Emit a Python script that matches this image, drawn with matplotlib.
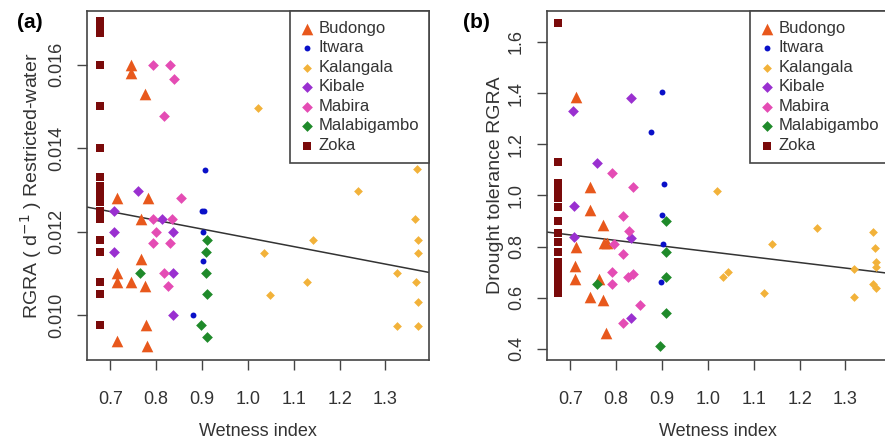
import matplotlib
matplotlib.use("Agg")
from matplotlib import pyplot as plt

plt.rcParams['font.family'] = ['Liberation Sans', 'DejaVu Sans']

sites = ["Budongo", "Itwara", "Kalangala", "Kibale", "Mabira", "Malabigambo", "Zoka"]
colors = ["#E8581C", "#0A10C8", "#F2B23A", "#9A30D0", "#E44CB4", "#1F8A2A", "#7A0A0A"]
markers = ["^", "o", "D", "D", "D", "D", "s"]
sizes = [70, 18, 20, 30, 30, 30, 36]

# panel (a): RGRA restricted water
budongo_x_a = [0.744, 0.744, 0.775, 0.715, 0.781, 0.766, 0.766, 0.715, 0.715, 0.744, 0.775, 0.777, 0.715, 0.779]
budongo_y_a = [0.0160, 0.0158, 0.01529, 0.0128, 0.0128, 0.0123, 0.01134, 0.0110, 0.0108, 0.0108, 0.0107, 0.00976, 0.00938, 0.00926]
itwara_x_a = [0.906, 0.899, 0.905, 0.902, 0.902, 0.880]
itwara_y_a = [0.01347, 0.0125, 0.0125, 0.0120, 0.0113, 0.0100]
kalangala_x_a = [1.022, 1.369, 1.240, 1.364, 1.371, 1.143, 1.035, 1.371, 1.325, 1.367, 1.128, 1.049, 1.371, 1.325, 1.371]
kalangala_y_a = [0.01496, 0.0135, 0.01297, 0.0123, 0.0118, 0.0118, 0.01148, 0.01148, 0.0110, 0.0108, 0.0108, 0.01048, 0.01031, 0.00974, 0.00974]
kibale_x_a = [0.761, 0.709, 0.812, 0.709, 0.836, 0.709, 0.836, 0.836]
kibale_y_a = [0.01297, 0.0125, 0.0123, 0.0120, 0.0120, 0.0115, 0.0110, 0.0100]
mabira_x_a = [0.792, 0.830, 0.838, 0.816, 0.854, 0.792, 0.834, 0.799, 0.792, 0.829, 0.816, 0.825]
mabira_y_a = [0.0160, 0.0160, 0.01565, 0.01477, 0.0128, 0.0123, 0.0123, 0.0120, 0.01172, 0.01172, 0.0110, 0.0107]
malabigambo_x_a = [0.764, 0.911, 0.908, 0.908, 0.911, 0.897, 0.911]
malabigambo_y_a = [0.0110, 0.0118, 0.0115, 0.0110, 0.0105, 0.00976, 0.00947]
zoka_x_a = [0.677] * 17
zoka_y_a = [0.01705, 0.0169, 0.01675, 0.0160, 0.0150, 0.0140, 0.0133, 0.0131, 0.0129, 0.0127,
            0.0125, 0.0123, 0.0118, 0.0115, 0.0108, 0.0105, 0.00975]
line_a = (0.01395, -0.0021)  # intercept, slope

# panel (b): drought tolerance RGRA
budongo_x_b = [0.713, 0.742, 0.742, 0.772, 0.713, 0.774, 0.780, 0.711, 0.711, 0.763, 0.742, 0.772, 0.777]
budongo_y_b = [1.384, 1.033, 0.943, 0.884, 0.798, 0.814, 0.814, 0.724, 0.673, 0.673, 0.603, 0.591, 0.463]
itwara_x_b = [0.899, 0.875, 0.904, 0.899, 0.901, 0.897]
itwara_y_b = [1.404, 1.248, 1.044, 0.923, 0.810, 0.662]
kalangala_x_b = [1.019, 1.238, 1.361, 1.140, 1.365, 1.367, 1.367, 1.044, 1.033, 1.319, 1.361, 1.367, 1.122, 1.319]
kalangala_y_b = [1.017, 0.873, 0.857, 0.810, 0.794, 0.740, 0.720, 0.701, 0.681, 0.712, 0.654, 0.640, 0.619, 0.603]
kibale_x_b = [0.706, 0.833, 0.759, 0.707, 0.707, 0.833, 0.833]
kibale_y_b = [1.330, 1.380, 1.126, 0.959, 0.837, 0.833, 0.521]
mabira_x_b = [0.790, 0.836, 0.814, 0.827, 0.796, 0.814, 0.790, 0.825, 0.836, 0.790, 0.851, 0.814]
mabira_y_b = [1.087, 1.033, 0.920, 0.861, 0.810, 0.771, 0.701, 0.681, 0.693, 0.654, 0.572, 0.502]
malabigambo_x_b = [0.759, 0.908, 0.908, 0.908, 0.908, 0.895]
malabigambo_y_b = [0.654, 0.900, 0.779, 0.681, 0.541, 0.412]
zoka_x_b = [0.674] * 17
zoka_y_b = [1.673, 1.131, 1.05, 1.03, 1.01, 0.99, 0.955, 0.900, 0.853, 0.818, 0.779, 0.740,
            0.71, 0.685, 0.66, 0.64, 0.62]
line_b = (0.997, -0.216)

data_a = [(budongo_x_a, budongo_y_a), (itwara_x_a, itwara_y_a), (kalangala_x_a, kalangala_y_a),
          (kibale_x_a, kibale_y_a), (mabira_x_a, mabira_y_a), (malabigambo_x_a, malabigambo_y_a),
          (zoka_x_a, zoka_y_a)]
data_b = [(budongo_x_b, budongo_y_b), (itwara_x_b, itwara_y_b), (kalangala_x_b, kalangala_y_b),
          (kibale_x_b, kibale_y_b), (mabira_x_b, mabira_y_b), (malabigambo_x_b, malabigambo_y_b),
          (zoka_x_b, zoka_y_b)]

xticks = [0.7, 0.8, 0.9, 1.0, 1.1, 1.2, 1.3]

fig = plt.figure(figsize=(8.85, 4.41), dpi=100)
ax_a = fig.add_axes([0.0983, 0.1837, 0.3864, 0.7914])
ax_b = fig.add_axes([0.6181, 0.1837, 0.3864, 0.7914])


def draw_panel(ax, data, line, ylim, yticks, ylabel, letter, letter_x):
    for (x, y), name, c, m, s in zip(data, sites, colors, markers, sizes):
        ax.scatter(x, y, c=c, marker=m, s=s, label=name, linewidths=0, zorder=3)
    ax.axline((0, line[0]), slope=line[1], color="#333333", lw=1.1, zorder=2)
    ax.set_xlim(0.649, 1.395)
    ax.set_ylim(*ylim)
    ax.set_xticks(xticks)
    ax.set_xticklabels([f"{t:.1f}" for t in xticks])
    ax.set_yticks(yticks)
    ax.set_yticklabels([f"{t:.3f}" if t < 0.1 else f"{t:.1f}" for t in yticks],
                       rotation=90, va="center")
    ax.tick_params(axis="both", direction="out", length=7, width=1, color="#444444",
                   labelsize=13, labelcolor="#333333")
    ax.tick_params(axis="x", pad=15)
    ax.tick_params(axis="y", pad=9)
    for sp in ax.spines.values():
        sp.set_color("#444444")
        sp.set_linewidth(1.2)
    ax.set_xlabel("Wetness index", fontsize=13, color="#333333", labelpad=11)
    ax.set_ylabel(ylabel, fontsize=14, color="#333333", labelpad=3)
    leg = ax.legend(loc="upper right", borderaxespad=0, fontsize=12, frameon=True,
                    fancybox=False, framealpha=1, edgecolor="#444444",
                    handletextpad=0.3, labelspacing=0.27, handlelength=0.8,
                    borderpad=0.6, scatterpoints=1)
    leg.get_frame().set_linewidth(1.2)
    for t in leg.get_texts():
        t.set_color("#333333")
    ax.text(letter_x, 0.968, letter, transform=ax.transAxes, fontsize=15,
            fontweight="bold", va="center", ha="left")


draw_panel(ax_a, data_a, line_a, (0.00892, 0.01729), [0.010, 0.012, 0.014, 0.016],
           "RGRA ( d$^{-1}$ ) Restricted-water", "(a)", -0.205)
draw_panel(ax_b, data_b, line_b, (0.357, 1.721), [0.4, 0.6, 0.8, 1.0, 1.2, 1.4, 1.6],
           "Drought tolerance RGRA", "(b)", -0.245)

fig.savefig("out.png", dpi=100)
